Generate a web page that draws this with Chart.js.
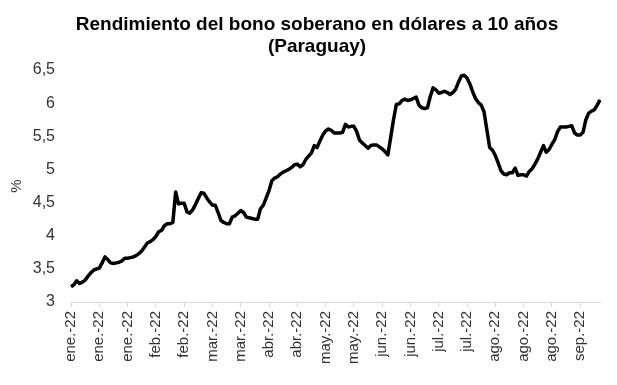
<!DOCTYPE html>
<html>
<head>
<meta charset="utf-8">
<script src="https://cdn.jsdelivr.net/npm/chart.js@4/dist/chart.umd.min.js"></script>
<style>
    html, body { margin: 0; padding: 0; background: #fff; }
    #wrap { width: 617px; height: 385px; }
</style>
</head>
<body>
<div id="wrap"><canvas id="bondChart"></canvas></div>
<script>
// Title lines
const titleLines = ['Rendimiento del bono soberano en dólares a 10 años', '(Paraguay)'];

// Tick labels shown every 10 business days
const tickLabels = [
    'ene.-22', 'ene.-22', 'ene.-22', 'feb.-22', 'feb.-22', 'mar.-22', 'mar.-22',
    'abr.-22', 'abr.-22', 'may.-22', 'may.-22', 'jun.-22', 'jun.-22', 'jul.-22',
    'jul.-22', 'ago.-22', 'ago.-22', 'ago.-22', 'sep.-22'
];

// Daily yield (%)
const yields = [
    3.23, 3.26, 3.32, 3.28, 3.30, 3.33, 3.39, 3.44, 3.48, 3.50,
    3.51, 3.59, 3.68, 3.64, 3.59, 3.58, 3.59, 3.60, 3.62, 3.66,
    3.66, 3.67, 3.68, 3.70, 3.73, 3.77, 3.83, 3.89, 3.91, 3.94,
    3.99, 4.06, 4.08, 4.15, 4.18, 4.18, 4.20, 4.66, 4.48, 4.49,
    4.49, 4.36, 4.34, 4.39, 4.47, 4.56, 4.65, 4.64, 4.57, 4.51,
    4.46, 4.46, 4.35, 4.23, 4.20, 4.18, 4.18, 4.28, 4.30, 4.34,
    4.38, 4.35, 4.28, 4.27, 4.26, 4.25, 4.25, 4.41, 4.46, 4.57,
    4.68, 4.83, 4.87, 4.89, 4.93, 4.96, 4.98, 5.00, 5.03, 5.07,
    5.08, 5.04, 5.07, 5.15, 5.20, 5.25, 5.36, 5.33, 5.43, 5.52,
    5.58, 5.61, 5.59, 5.55, 5.55, 5.55, 5.56, 5.68, 5.64, 5.65,
    5.65, 5.57, 5.44, 5.40, 5.36, 5.32, 5.36, 5.37, 5.37, 5.34,
    5.31, 5.27, 5.22, 5.48, 5.75, 5.98, 5.99, 6.04, 6.06, 6.04,
    6.05, 6.07, 6.09, 5.97, 5.93, 5.92, 5.93, 6.10, 6.23, 6.20,
    6.15, 6.16, 6.18, 6.16, 6.13, 6.16, 6.21, 6.32, 6.41, 6.42,
    6.38, 6.29, 6.17, 6.07, 6.01, 5.97, 5.87, 5.60, 5.33, 5.29,
    5.21, 5.10, 4.98, 4.93, 4.92, 4.95, 4.95, 5.02, 4.91, 4.92,
    4.92, 4.90, 4.97, 5.01, 5.08, 5.16, 5.26, 5.36, 5.26, 5.30,
    5.38, 5.45, 5.57, 5.64, 5.64, 5.64, 5.65, 5.66, 5.55, 5.52,
    5.52, 5.56, 5.75, 5.85, 5.88, 5.90, 5.97, 6.05
];

const categories = yields.map((v, i) => i);

const FONT = 'Liberation Sans, Arial, sans-serif';
const TEXT = '#333333';

// Title drawn a little right of the canvas centre, as in the original
const titlePlugin = {
    id: 'offsetTitle',
    afterDraw(chart) {
        const ctx = chart.ctx;
        ctx.save();
        ctx.fillStyle = '#000000';
        ctx.font = 'bold 19px ' + FONT;
        ctx.textAlign = 'center';
        ctx.textBaseline = 'middle';
        ctx.fillText(titleLines[0], 317, 25);
        ctx.fillText(titleLines[1], 317, 47);
        ctx.restore();
    }
};

new Chart(document.getElementById('bondChart'), {
    type: 'line',
    data: {
        labels: categories,
        datasets: [{
            data: yields,
            borderColor: '#000000',
            borderWidth: 3.5,
            borderJoinStyle: 'round',
            pointRadius: 0,
            tension: 0,
            fill: false
        }]
    },
    plugins: [titlePlugin],
    options: {
        responsive: true,
        maintainAspectRatio: false,
        animation: false,
        devicePixelRatio: 1,
        layout: {
            padding: { left: 8, right: 17, top: 70, bottom: 0 }
        },
        plugins: {
            legend: { display: false },
            tooltip: { enabled: false },
            title: { display: false }
        },
        scales: {
            x: {
                type: 'category',
                offset: false,
                border: { display: true, color: '#d9d9d9', width: 1 },
                grid: {
                    display: true,
                    drawOnChartArea: false,
                    drawTicks: true,
                    tickLength: 5,
                    color: '#d9d9d9'
                },
                ticks: {
                    autoSkip: false,
                    maxRotation: 90,
                    minRotation: 90,
                    padding: 4,
                    color: TEXT,
                    font: { family: FONT, size: 15 },
                    callback: (val, i) => (i % 10 === 0 ? tickLabels[i / 10] : null)
                },
                afterFit: (scale) => { scale.height = 83; }
            },
            y: {
                min: 3,
                max: 6.5,
                border: { display: false },
                grid: { display: false, drawTicks: false },
                ticks: {
                    stepSize: 0.5,
                    padding: 16,
                    color: TEXT,
                    font: { family: FONT, size: 16 },
                    callback: (v) => String(v).replace('.', ',')
                },
                title: {
                    display: true,
                    text: '%',
                    color: TEXT,
                    font: { family: FONT, size: 15 },
                    padding: { top: 0, bottom: 0 }
                },
                afterFit: (scale) => { scale.width = 63; }
            }
        }
    }
});
</script>
</body>
</html>
